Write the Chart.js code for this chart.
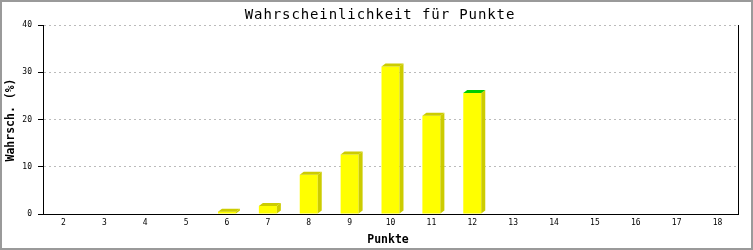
<!DOCTYPE html>
<html>
<head>
<meta charset="utf-8">
<script src="https://cdn.jsdelivr.net/npm/chart.js@4"></script>
<style>
  body { margin: 0; background: #fff; }
  canvas { display: block; }
</style>
</head>
<body>
<canvas id="punkteChart" width="753" height="250"></canvas>
<script>
// Data
const categories = ["2", "3", "4", "5", "6", "7", "8", "9", "10", "11", "12", "13", "14", "15", "16", "17", "18"];
const percentages = [0, 0, 0, 0, 0.5, 1.7, 8.3, 12.6, 31.2, 20.8, 25.6, 0, 0, 0, 0, 0, 0];
const yTicks = [0, 10, 20, 30, 40];
const highlightCategory = "12";

const chartTitle = "Wahrscheinlichkeit für Punkte";
const xTitle = "Punkte";
const yTitle = "Wahrsch. (%)";

// Frame, titles and right border
const framePlugin = {
  id: "frame",
  beforeDraw(chart) {
    const ctx = chart.ctx;
    ctx.save();
    ctx.fillStyle = "#fff";
    ctx.fillRect(0, 0, chart.width, chart.height);
    ctx.strokeStyle = "#9a9a9a";
    ctx.lineWidth = 2;
    ctx.strokeRect(1, 1, chart.width - 2, chart.height - 2);
    ctx.restore();
  },
  afterDraw(chart) {
    const ctx = chart.ctx;
    const area = chart.chartArea;
    ctx.save();
    ctx.strokeStyle = "#000";
    ctx.lineWidth = 1;
    ctx.beginPath();
    ctx.moveTo(Math.round(area.right) + 0.5, area.top);
    ctx.lineTo(Math.round(area.right) + 0.5, area.bottom);
    ctx.stroke();

    ctx.fillStyle = "#000";
    ctx.textAlign = "center";
    ctx.textBaseline = "middle";
    ctx.font = "14px 'DejaVu Sans Mono'";
    ctx.letterSpacing = "0.9px";
    ctx.fillText(chartTitle, 380, 15);
    ctx.letterSpacing = "0px";

    ctx.font = "bold 11.5px 'DejaVu Sans Mono'";
    ctx.fillText(xTitle, 388, 240);
    ctx.translate(11, 120);
    ctx.rotate(-Math.PI / 2);
    ctx.fillText(yTitle, 0, 0);
    ctx.restore();
  }
};

// 3D side and top faces for each bar
const depthPlugin = {
  id: "depth",
  afterDatasetsDraw(chart) {
    const ctx = chart.ctx;
    const meta = chart.getDatasetMeta(0);
    const dx = 4, dy = 3;
    ctx.save();
    meta.data.forEach((bar, i) => {
      if (!percentages[i]) return;
      const { x, y, base, width } = bar.getProps(["x", "y", "base", "width"], true);
      const l = x - width / 2, r = x + width / 2;
      ctx.fillStyle = "#cccc00";
      ctx.beginPath();
      ctx.moveTo(r, y);
      ctx.lineTo(r + dx, y - dy);
      ctx.lineTo(r + dx, base - dy);
      ctx.lineTo(r, base);
      ctx.closePath();
      ctx.fill();
      ctx.fillStyle = categories[i] === highlightCategory ? "#00cc00" : "#cccc00";
      ctx.beginPath();
      ctx.moveTo(l, y);
      ctx.lineTo(l + dx, y - dy);
      ctx.lineTo(r + dx, y - dy);
      ctx.lineTo(r, y);
      ctx.closePath();
      ctx.fill();
    });
    ctx.restore();
  }
};

const tickFont = { family: "'DejaVu Sans Mono'", size: 8 };

new Chart(document.getElementById("punkteChart"), {
  type: "bar",
  data: {
    labels: categories,
    datasets: [{
      data: percentages,
      backgroundColor: "#ffff00",
      borderWidth: 0,
      barPercentage: 0.44,
      categoryPercentage: 1
    }]
  },
  options: {
    responsive: false,
    animation: false,
    layout: { padding: { left: 0, right: 15, top: 25, bottom: 0 } },
    plugins: {
      legend: { display: false },
      tooltip: { enabled: false },
      title: { display: false }
    },
    scales: {
      x: {
        grid: { display: false, drawTicks: false },
        border: { display: true, color: "#000", width: 1 },
        ticks: { color: "#000", font: tickFont, padding: 4, maxRotation: 0, autoSkip: false },
        afterFit: s => { s.height = 36; }
      },
      y: {
        min: 0,
        max: 40,
        afterBuildTicks: s => { s.ticks = yTicks.map(v => ({ value: v })); },
        grid: { color: "#bbbbbb", tickColor: "#000", tickLength: 5, tickBorderDash: [] },
        border: { display: true, color: "#000", width: 1, dash: [2, 3] },
        ticks: { color: "#000", font: tickFont, padding: 6 },
        afterFit: s => { s.width = 43; }
      }
    }
  },
  plugins: [framePlugin, depthPlugin]
});
</script>
</body>
</html>
